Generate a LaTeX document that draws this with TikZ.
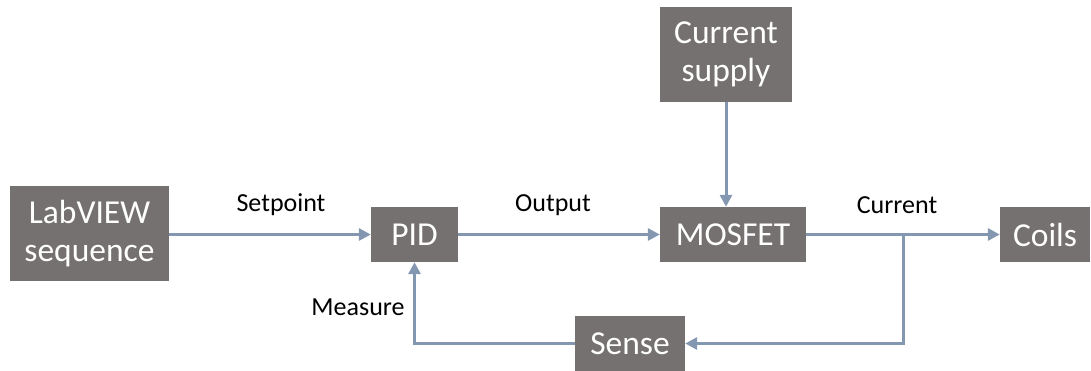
\documentclass[tikz,border=0pt]{standalone}
\usepackage{fontspec}
\setmainfont{Carlito}
\usetikzlibrary{arrows.meta}
\definecolor{boxgray}{HTML}{767171}
\definecolor{linkblue}{HTML}{8497B0}
\tikzset{
  blk/.style={fill=boxgray, draw=none, text=white, inner sep=0pt, align=center,
    font=\fontsize{33.5}{38}\selectfont},
  lbl/.style={text=black, inner sep=0pt, font=\fontsize{26}{30}\selectfont},
  link/.style={draw=linkblue, line width=3pt},
  arr/.style={link, -{Triangle[length=12pt,width=12pt]}}
}
\begin{document}
\begin{tikzpicture}[x=1pt,y=-1pt]
\useasboundingbox (0,0) rectangle (1091,370);
\node[blk, minimum width=159pt, minimum height=95pt] (lab) at (89.5,233.5) {LabVIEW\\sequence};
\node[blk, minimum width=87pt, minimum height=55pt] (pid) at (414.5,234.5) {PID};
\node[blk, minimum width=146pt, minimum height=55pt] (mos) at (733,234.5) {MOSFET};
\node[blk, minimum width=132pt, minimum height=95pt] (sup) at (726,54.5) {Current\\supply};
\node[blk, minimum width=90pt, minimum height=55pt] (coils) at (1045,234.5) {Coils};
\node[blk, minimum width=110pt, minimum height=55pt] (sense) at (630,343.5) {Sense};
\coordinate (j) at (903.5,234.5);
\draw[arr] (lab.east |- pid.west) -- (pid.west);
\draw[arr] (pid.east) -- (mos.west);
\draw[arr] (sup.south) -- (sup.south |- mos.north);
\draw[arr] (mos.east) -- (coils.west);
\draw[arr] (j) |- (sense.east);
\draw[arr] (sense.west) -| (pid.south);
\node[lbl] (lsp) at (281,205) {Setpoint};
\node[lbl] (lout) at (553,205) {Output};
\node[lbl] (lcur) at (897,205) {Current};
\node[lbl] (lmea) at (358,307) {Measure};
\end{tikzpicture}
\end{document}
